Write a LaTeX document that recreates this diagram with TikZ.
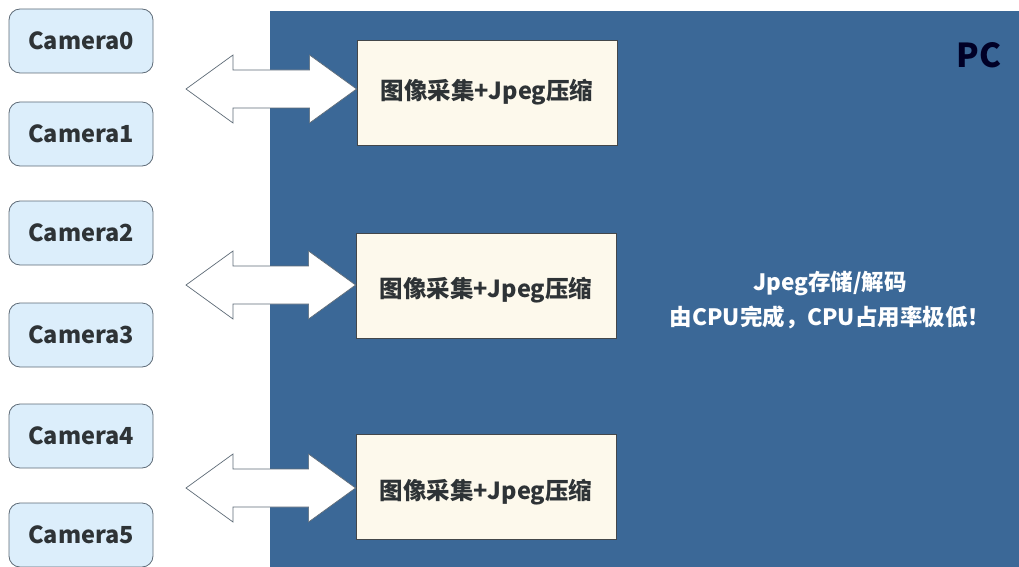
\documentclass[tikz,border=0pt]{standalone}
\usepackage{fontspec}
\setmainfont{Noto Sans CJK SC}
\usetikzlibrary{calc}
\definecolor{pcblue}{HTML}{3B6897}
\definecolor{camfill}{HTML}{DCEEFB}
\definecolor{camdraw}{HTML}{5E6B77}
\definecolor{boxfill}{HTML}{FDF9EC}
\definecolor{txt}{HTML}{2E3336}
\tikzset{
  cam/.style={draw=camdraw, fill=camfill, rounded corners=11pt, minimum width=144pt, minimum height=64pt, line width=0.8pt, inner sep=0pt, font=\fontsize{23.5}{28}\selectfont\bfseries, text=txt},
  proc/.style={draw=txt!90, fill=boxfill, minimum width=260pt, minimum height=105pt, line width=0.8pt, inner sep=0pt},
  proctext/.style={inner sep=0pt, font=\fontsize{23.5}{28}\selectfont\bfseries, text=txt},
  bigarrow/.style={draw=camdraw, fill=white, line width=0.7pt, line join=miter}
}
\begin{document}
\begin{tikzpicture}[x=1pt,y=-1pt]
\useasboundingbox (0,0) rectangle (1019,567);
\fill[pcblue] (270,11) rectangle (1019,567);
\node[font=\fontsize{33}{38}\selectfont\bfseries, text=black!85!blue] (pc) at (979,55) {PC};
\node[cam] (c0) at (81,41) {Camera0};
\node[cam] (c1) at (81,134) {Camera1};
\node[cam] (c2) at (81,233) {Camera2};
\node[cam] (c3) at (81,335) {Camera3};
\node[cam] (c4) at (81,436) {Camera4};
\node[cam] (c5) at (81,535) {Camera5};
\node[proc] (p0) at (487,92.5) {};
\node[proc] (p1) at (486,285.5) {};
\node[proc] (p2) at (486,486.5) {};
\node[proctext] (t0) at ($(p0.center)+(0,0)$) {图像采集+Jpeg压缩};
\node[proctext] (t1) at ($(p1.center)+(0,4.5)$) {图像采集+Jpeg压缩};
\node[proctext] (t2) at ($(p2.center)+(0,5.5)$) {图像采集+Jpeg压缩};
\node[font=\fontsize{22.5}{35}\selectfont\bfseries, text=white, align=center] (info) at (830,300.5) {Jpeg存储/解码\\由CPU完成，CPU占用率极低！};
\foreach \p/\yy in {p0/89, p1/285, p2/488}{
  \coordinate (L) at (186,\yy);
  \coordinate (R) at (\p.west |- L);
  \draw[bigarrow] (L) -- ++(47,-34) -- ++(0,15) -- ($(R)+(-47,-19)$) -- ++(0,-15) -- (R) -- ++(-47,34) -- ++(0,-15) -- ($(L)+(47,19)$) -- ++(0,15) -- cycle;
}
\end{tikzpicture}
\end{document}
